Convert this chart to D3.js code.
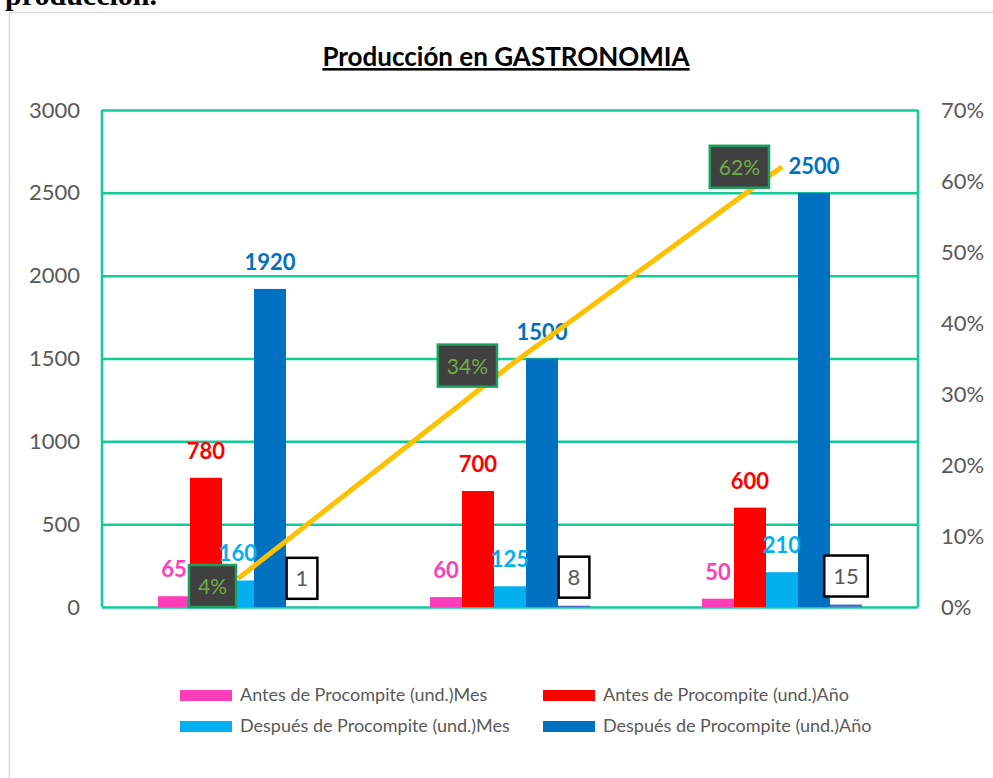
<!DOCTYPE html>
<meta charset="utf-8">
<title>Producción en GASTRONOMIA</title>
<script src="https://d3js.org/d3.v7.min.js"></script>
<style>
  body { margin: 0; background: #fff; font-family: "Lato", sans-serif; }
  svg { display: block; }
</style>
<div id="chart"></div>
<script>
  // data
  var categories = ["Grupo 1", "Grupo 2", "Grupo 3"];
  var antesMes = [65, 60, 50];
  var antesAnio = [780, 700, 600];
  var despuesMes = [160, 125, 210];
  var despuesAnio = [1920, 1500, 2500];
  var extra = [1, 8, 15];
  var porcentaje = [0.04, 0.34, 0.62];
  var leftTicks = [0, 500, 1000, 1500, 2000, 2500, 3000];
  var rightTicks = [0, 0.1, 0.2, 0.3, 0.4, 0.5, 0.6, 0.7];

  var seriesNames = ["Antes de Procompite (und.)Mes", "Antes de Procompite (und.)Año",
                     "Después de Procompite (und.)Mes", "Después de Procompite (und.)Año", "extra"];
  var seriesColors = ["#FF3DB8", "#FF0000", "#00B0F0", "#0070C0", "#4472C4"];
  var seriesValues = [antesMes, antesAnio, despuesMes, despuesAnio, extra];

  var W = 993, H = 778;
  var plot = {left: 102, right: 918, top: 110, bottom: 607};
  var gridColor = "#12CC98";
  var grey = "#595959";

  var svg = d3.select("#chart").append("svg")
    .attr("width", W).attr("height", H);

  // cut-off heading from the document above the chart
  svg.append("text")
    .attr("x", 5).attr("y", 5)
    .style("font-family", "'Liberation Serif', serif")
    .style("font-weight", "bold")
    .style("font-size", "30px")
    .attr("fill", "#000")
    .text("producción.");

  // chart frame
  svg.append("rect")
    .attr("x", 9.5).attr("y", 12.5)
    .attr("width", 1100).attr("height", 900)
    .attr("fill", "#fff")
    .attr("stroke", "#D9D9D9").attr("stroke-width", 1.5);

  // title
  svg.append("text")
    .attr("x", 506).attr("y", 66)
    .attr("text-anchor", "middle")
    .style("font-size", "26px")
    .style("font-weight", "bold")
    .style("text-decoration", "underline")
    .attr("fill", "#000")
    .text("Producción en GASTRONOMIA");

  var x0 = d3.scaleBand()
    .domain(categories)
    .range([plot.left, plot.right])
    .paddingInner(0.4118)
    .paddingOuter(0.2059);

  var x1 = d3.scaleBand()
    .domain(d3.range(seriesValues.length))
    .range([0, x0.bandwidth()]);

  var y = d3.scaleLinear().domain([0, 3000]).range([plot.bottom, plot.top]);
  var y2 = d3.scaleLinear().domain([0, 0.7]).range([plot.bottom, plot.top]);

  // gridlines
  svg.append("g")
    .attr("transform", "translate(" + plot.left + ",0)")
    .call(d3.axisLeft(y).tickValues(leftTicks).tickSize(-(plot.right - plot.left)).tickFormat(""))
    .call(function(g) {
      g.select(".domain").remove();
      g.selectAll("line").attr("stroke", gridColor).attr("stroke-width", 2.5);
    });

  // left and right frame lines
  svg.append("line")
    .attr("x1", plot.left).attr("x2", plot.left)
    .attr("y1", plot.top).attr("y2", plot.bottom)
    .attr("stroke", gridColor).attr("stroke-width", 2.5);
  svg.append("line")
    .attr("x1", plot.right).attr("x2", plot.right)
    .attr("y1", plot.top).attr("y2", plot.bottom)
    .attr("stroke", gridColor).attr("stroke-width", 2.5);

  // left axis labels
  svg.append("g")
    .attr("transform", "translate(80,0)")
    .call(d3.axisLeft(y).tickValues(leftTicks).tickSize(0).tickPadding(0).tickFormat(d3.format("d")))
    .call(function(g) {
      g.select(".domain").remove();
      g.selectAll("text")
        .attr("fill", grey)
        .style("font-size", "22px")
        .style("font-family", "Lato, sans-serif");
    });

  // right axis labels
  svg.append("g")
    .attr("transform", "translate(941,0)")
    .call(d3.axisRight(y2).tickValues(rightTicks).tickSize(0).tickPadding(0).tickFormat(d3.format(".0%")))
    .call(function(g) {
      g.select(".domain").remove();
      g.selectAll("text")
        .attr("fill", grey)
        .style("font-size", "22px")
        .style("font-family", "Lato, sans-serif");
    });

  // bars
  var groups = svg.selectAll(".grp")
    .data(categories)
    .enter().append("g")
    .attr("class", "grp")
    .attr("transform", function(d) { return "translate(" + x0(d) + ",0)"; });

  groups.selectAll("rect")
    .data(function(d, i) {
      return seriesValues.map(function(s, k) { return {k: k, v: s[i]}; });
    })
    .enter().append("rect")
    .attr("x", function(d) { return x1(d.k); })
    .attr("y", function(d) { return y(d.v); })
    .attr("width", x1.bandwidth())
    .attr("height", function(d) { return plot.bottom - y(d.v); })
    .attr("fill", function(d) { return seriesColors[d.k]; });

  // bar value labels (first four series)
  groups.selectAll(".val")
    .data(function(d, i) {
      return seriesValues.slice(0, 4).map(function(s, k) { return {k: k, v: s[i]}; });
    })
    .enter().append("text")
    .attr("class", "val")
    .attr("x", function(d) { return x1(d.k) + x1.bandwidth() / 2; })
    .attr("y", function(d) { return y(d.v) - 19; })
    .attr("text-anchor", "middle")
    .style("font-size", "22px")
    .style("font-weight", "bold")
    .attr("fill", function(d) { return seriesColors[d.k]; })
    .text(function(d) { return d.v; });

  // boxed labels of the fifth series
  groups.each(function(c, i) {
    var g = d3.select(this);
    var cx = x1(4) + x1.bandwidth() / 2;
    var cy = y(extra[i]) - 29;
    var box = g.append("rect");
    var t = g.append("text")
      .attr("x", cx).attr("y", cy + 8)
      .attr("text-anchor", "middle")
      .style("font-size", "22px")
      .attr("fill", grey)
      .text(extra[i]);
    var bb = t.node().getBBox();
    box.attr("x", cx - bb.width / 2 - 9).attr("y", cy - 20)
      .attr("width", bb.width + 18).attr("height", 41)
      .attr("fill", "#fff").attr("stroke", "#000").attr("stroke-width", 2.5);
  });

  // percentage line
  var line = d3.line()
    .x(function(d, i) { return x0(categories[i]) + x0.bandwidth() / 2; })
    .y(function(d) { return y2(d); });

  svg.append("path")
    .datum(porcentaje)
    .attr("d", line)
    .attr("fill", "none")
    .attr("stroke", "#FFC000")
    .attr("stroke-width", 5);

  // percentage labels, kept inside the plot area like Excel does
  porcentaje.forEach(function(p, i) {
    var px = x0(categories[i]) + x0.bandwidth() / 2;
    var py = y2(p);
    var box = svg.append("rect");
    var t = svg.append("text")
      .attr("text-anchor", "end")
      .style("font-size", "21px")
      .attr("fill", "#70AD47")
      .text(d3.format(".0%")(p));
    var bb = t.node().getBBox();
    var w = bb.width + 18, h = 42;
    var right = Math.min(px - 13, px - 2);
    var top = Math.min(py - h / 2, plot.bottom - h);
    if (top + h > plot.bottom - 8) { right = px - 2; top = plot.bottom - h; }
    t.attr("x", right - 9).attr("y", top + h / 2 + 8);
    box.attr("x", right - w).attr("y", top)
      .attr("width", w).attr("height", h)
      .attr("fill", "#404040").attr("stroke", "#1E9E5E").attr("stroke-width", 2.5);
  });

  // legend
  var legendPos = [[180, 695], [543, 695], [180, 726], [543, 726]];
  seriesNames.slice(0, 4).forEach(function(name, k) {
    var p = legendPos[k];
    svg.append("rect")
      .attr("x", p[0]).attr("y", p[1] - 5)
      .attr("width", 52).attr("height", 11)
      .attr("fill", seriesColors[k]);
    svg.append("text")
      .attr("x", p[0] + 60).attr("y", p[1] + 6)
      .style("font-size", "18px")
      .attr("fill", grey)
      .text(name);
  });
</script>
